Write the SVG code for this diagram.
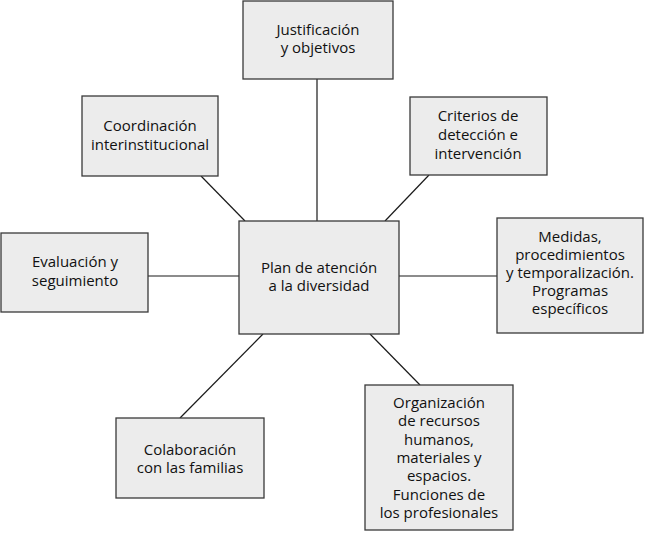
<svg xmlns="http://www.w3.org/2000/svg" width="646" height="533" viewBox="0 0 646 533">
<style>
.box{fill:#ececec;stroke:#3a3a3a;stroke-width:1.3}
.t{font-family:"Open Sans","Liberation Sans",sans-serif;font-size:15px;fill:#111111;text-anchor:middle}
.c{stroke:#1a1a1a;stroke-width:1.2;fill:none}
</style>
<rect width="646" height="533" fill="#ffffff"/>
<g id="connectors">
<line class="c" x1="317" y1="79" x2="317" y2="221"/>
<line class="c" x1="201" y1="176" x2="245" y2="221"/>
<line class="c" x1="429" y1="175" x2="385" y2="221"/>
<line class="c" x1="148" y1="276" x2="239" y2="276"/>
<line class="c" x1="399" y1="276" x2="497" y2="276"/>
<line class="c" x1="263" y1="334" x2="180" y2="418"/>
<line class="c" x1="370" y1="334" x2="420" y2="385"/>
</g>
<g id="center">
<rect class="box" x="239" y="221" width="160" height="113"/>
<text class="t" x="319" y="273">Plan de atención</text>
<text class="t" x="319" y="291">a la diversidad</text>
</g>
<g id="justificacion">
<rect class="box" x="243" y="1" width="150" height="78"/>
<text class="t" x="318" y="35">Justificación</text>
<text class="t" x="318" y="53">y objetivos</text>
</g>
<g id="coordinacion">
<rect class="box" x="82" y="96" width="136" height="80"/>
<text class="t" x="150" y="131">Coordinación</text>
<text class="t" x="150" y="150">interinstitucional</text>
</g>
<g id="criterios">
<rect class="box" x="410" y="97" width="137" height="78"/>
<text class="t" x="478" y="121">Criterios de</text>
<text class="t" x="478" y="140">detección e</text>
<text class="t" x="478" y="159">intervención</text>
</g>
<g id="evaluacion">
<rect class="box" x="1" y="233" width="147" height="79"/>
<text class="t" x="75" y="267">Evaluación y</text>
<text class="t" x="75" y="286">seguimiento</text>
</g>
<g id="medidas">
<rect class="box" x="497" y="218" width="146" height="115"/>
<text class="t" x="570" y="242">Medidas,</text>
<text class="t" x="570" y="260">procedimientos</text>
<text class="t" x="570" y="278">y temporalización.</text>
<text class="t" x="570" y="296">Programas</text>
<text class="t" x="570" y="314">específicos</text>
</g>
<g id="organizacion">
<rect class="box" x="365" y="385" width="148" height="145"/>
<text class="t" x="439" y="408">Organización</text>
<text class="t" x="439" y="426.3">de recursos</text>
<text class="t" x="439" y="444.6">humanos,</text>
<text class="t" x="439" y="463">materiales y</text>
<text class="t" x="439" y="481.3">espacios.</text>
<text class="t" x="439" y="499.6">Funciones de</text>
<text class="t" x="439" y="518">los profesionales</text>
</g>
<g id="colaboracion">
<rect class="box" x="116" y="418" width="148" height="80"/>
<text class="t" x="190" y="455">Colaboración</text>
<text class="t" x="190" y="473">con las familias</text>
</g>
</svg>
